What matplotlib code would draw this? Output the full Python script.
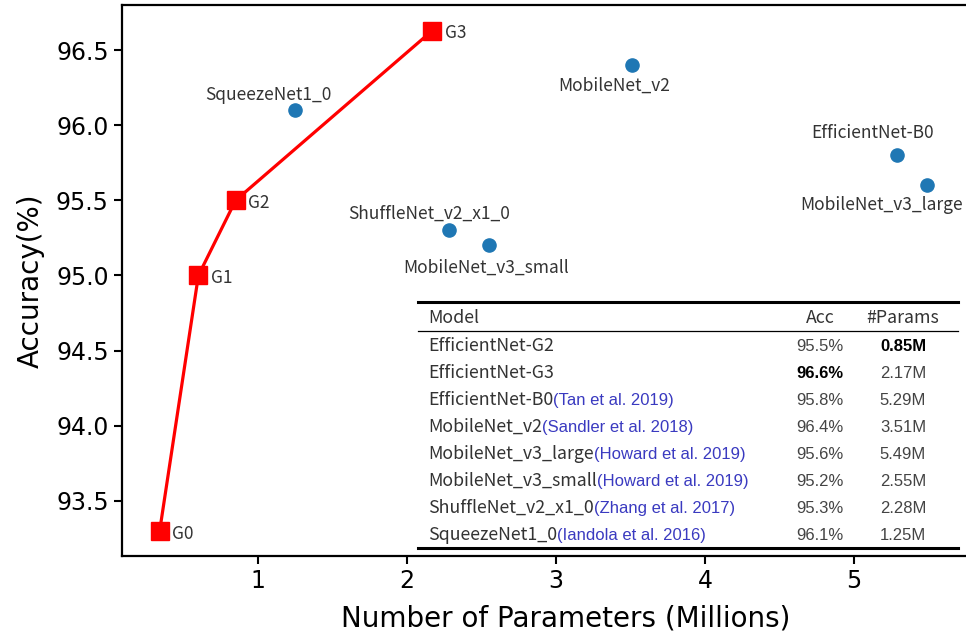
import matplotlib
matplotlib.use("Agg")
import matplotlib.pyplot as plt
from matplotlib.lines import Line2D

# our models (G0..G3)
g_names = ["G0", "G1", "G2", "G3"]
g_params = [0.34, 0.60, 0.85, 2.17]
g_acc = [93.3, 95.0, 95.5, 96.63]

# other models
o_names = ["SqueezeNet1_0", "ShuffleNet_v2_x1_0", "MobileNet_v3_small",
           "MobileNet_v2", "EfficientNet-B0", "MobileNet_v3_large"]
o_params = [1.25, 2.28, 2.55, 3.51, 5.29, 5.49]
o_acc = [96.1, 95.3, 95.2, 96.4, 95.8, 95.6]

# table contents
tab_model = ["EfficientNet-G2", "EfficientNet-G3", "EfficientNet-B0", "MobileNet_v2",
             "MobileNet_v3_large", "MobileNet_v3_small", "ShuffleNet_v2_x1_0", "SqueezeNet1_0"]
tab_cite = ["", "", "(Tan et al. 2019)", "(Sandler et al. 2018)", "(Howard et al. 2019)",
            "(Howard et al. 2019)", "(Zhang et al. 2017)", "(Iandola et al. 2016)"]
tab_acc = ["95.5%", "96.6%", "95.8%", "96.4%", "95.6%", "95.2%", "95.3%", "96.1%"]
tab_params = ["0.85M", "2.17M", "5.29M", "3.51M", "5.49M", "2.55M", "2.28M", "1.25M"]
bold_acc = "96.6%"
bold_params = "0.85M"

W, H = 966, 634
cjk = ["Noto Sans CJK SC", "DejaVu Sans"]
arial = ["Liberation Sans", "DejaVu Sans"]
txt_col = "#333333"
num_col = "#444444"
cite_col = "#3a3ac0"

fig = plt.figure(figsize=(W / 100, H / 100), dpi=100)
# axes runs off the right edge of the picture (cropped screenshot)
ax = fig.add_axes([122 / W, 1 - 556 / H, (1010 - 122) / W, (556 - 5) / H])

ax.plot(g_params, g_acc, color="red", lw=2.3, marker="s", ms=13, zorder=3)
ax.scatter(o_params, o_acc, s=90, color="#1f77b4", zorder=3)

for n, x, y in zip(g_names, g_params, g_acc):
    ax.annotate(n, (x, y), xytext=(9, -2), textcoords="offset points",
                ha="left", va="center", fontsize=12.5, family=cjk, color=txt_col)

# label offsets in points (dx, dy)
o_offs = [(-19, 11), (-14, 12), (-2, -16), (-13, -15), (-18, 16), (-33, -14)]
for n, x, y, off in zip(o_names, o_params, o_acc, o_offs):
    ax.annotate(n, (x, y), xytext=off, textcoords="offset points",
                ha="center", va="center", fontsize=12.5, family=cjk, color=txt_col)

ax.set_xlim((122 - 109) / 149, (1010 - 109) / 149)
ax.set_ylim(93.133, 96.8)
ax.set_xticks([1, 2, 3, 4, 5])
ax.set_yticks([93.5, 94.0, 94.5, 95.0, 95.5, 96.0, 96.5])
ax.yaxis.set_major_formatter(plt.FormatStrFormatter("%.1f"))
ax.tick_params(labelsize=17, width=1.5, length=6)
for s in ax.spines.values():
    s.set_linewidth(1.6)
ax.set_xlabel("Number of Parameters (Millions)", fontsize=20, labelpad=8)
ax.set_ylabel("Accuracy(%)", fontsize=20, labelpad=8)

# ---- table drawn in figure pixels ----
def fx(px):
    return px / W

def fy(py):
    return 1 - py / H

x0, x1 = 418, 958
for yy, lw in [(302, 2.2), (331, 0.9), (548, 2.2)]:
    fig.add_artist(Line2D([fx(x0), fx(x1)], [fy(yy), fy(yy)], color="black", lw=lw))

col_model, col_acc, col_par = 428, 820, 903
row_h = 27
hdr_y = 318
fig.text(fx(col_model), fy(hdr_y), "Model", ha="left", va="center", fontsize=12.8, family=cjk, color=txt_col)
fig.text(fx(col_acc), fy(hdr_y), "Acc", ha="center", va="center", fontsize=12.8, family=cjk, color=txt_col)
fig.text(fx(col_par), fy(hdr_y), "#Params", ha="center", va="center", fontsize=12.8, family=cjk, color=txt_col)

renderer = fig.canvas.get_renderer()
for i in range(len(tab_model)):
    base = fy(345 + i * row_h + 6)
    t = fig.text(fx(col_model), base, tab_model[i], ha="left", va="baseline",
                 fontsize=12.8, family=cjk, color=txt_col)
    if tab_cite[i]:
        bb = t.get_window_extent(renderer)
        fig.text(bb.x1 / W, base, tab_cite[i], ha="left", va="baseline",
                 fontsize=12, family=arial, color=cite_col)
    is_b = tab_acc[i] == bold_acc
    fig.text(fx(col_acc), base, tab_acc[i], ha="center", va="baseline", fontsize=12, family=arial,
             color="black" if is_b else num_col, fontweight="bold" if is_b else "normal")
    is_b = tab_params[i] == bold_params
    fig.text(fx(col_par), base, tab_params[i], ha="center", va="baseline", fontsize=12, family=arial,
             color="black" if is_b else num_col, fontweight="bold" if is_b else "normal")

fig.savefig("out.png", dpi=100)
